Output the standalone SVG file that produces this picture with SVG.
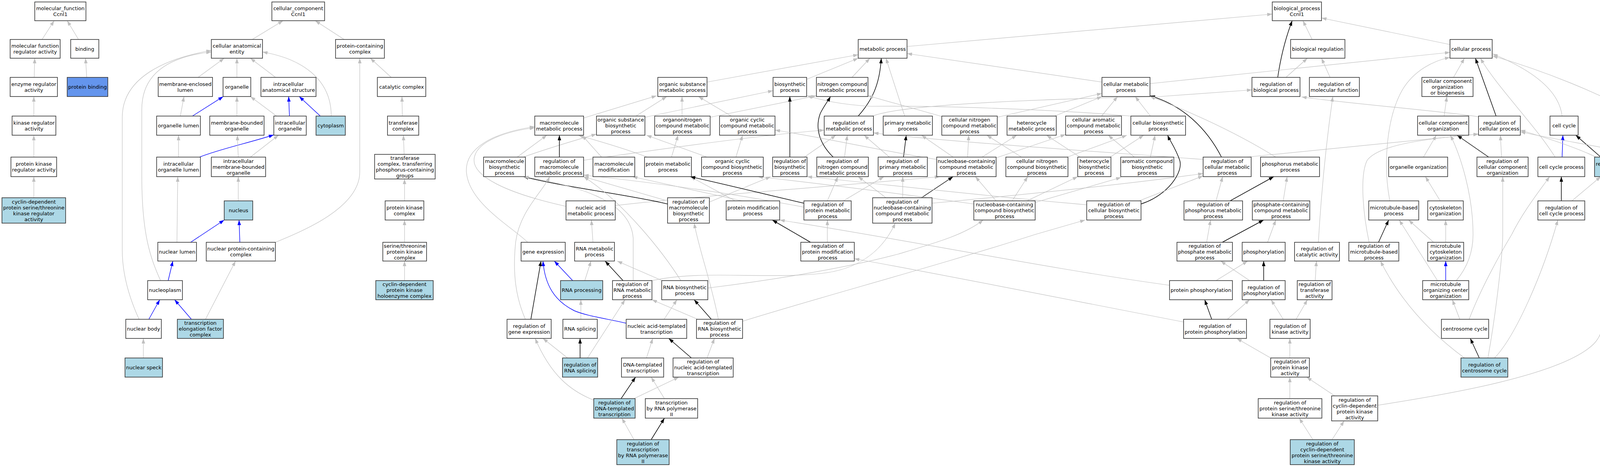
<svg xmlns="http://www.w3.org/2000/svg" width="4449" height="1195" viewBox="0 0 4449 1195">
<style>
.n rect{fill:#fff;stroke:#333;stroke-width:1.6}
.n.hl rect{fill:#ADD8E6}
.n.pb rect{fill:#6495ED}
text{font-family:"DejaVu Sans","Liberation Sans",sans-serif;font-size:13px;text-anchor:middle;fill:#000}
#edges path{fill:none}
.g{stroke:#c0c0c0;stroke-width:1.2;marker-end:url(#ag)}
.k{stroke:#000;stroke-width:1.5;marker-end:url(#ak)}
.b{stroke:#0000ff;stroke-width:1.4;marker-end:url(#ab)}
</style>
<defs>
<marker id="ag" viewBox="0 0 13 9" refX="13" refY="4.5" markerWidth="13" markerHeight="9" markerUnits="userSpaceOnUse" orient="auto"><path d="M0,0 L13,4.5 L0,9 z" fill="#c0c0c0"/></marker>
<marker id="ak" viewBox="0 0 13 9" refX="13" refY="4.5" markerWidth="13" markerHeight="9" markerUnits="userSpaceOnUse" orient="auto"><path d="M0,0 L13,4.5 L0,9 z" fill="#000"/></marker>
<marker id="ab" viewBox="0 0 13 9" refX="13" refY="4.5" markerWidth="13" markerHeight="9" markerUnits="userSpaceOnUse" orient="auto"><path d="M0,0 L13,4.5 L0,9 z" fill="#0000ff"/></marker>
</defs>
<rect x="0" y="0" width="4449" height="1195" fill="#fff"/>
<g id="edges">
<path class="g" d="M107.6,101 L138.7,53"/>
<path class="g" d="M201,101 L172,53"/>
<path class="g" d="M87.5,198 L89,149"/>
<path class="g" d="M222,198 L219,149"/>
<path class="g" d="M86.6,297 L86.6,247"/>
<path class="g" d="M86.6,402 L86.6,346"/>
<path class="g" d="M86.6,506 L86.6,452"/>
<path class="g" d="M645.7,101 L724.6,53"/>
<path class="g" d="M881,101 L807,53"/>
<path class="g" d="M507,198 L574,149"/>
<path class="g" d="M606.5,198 L606.5,149"/>
<path class="g" d="M705.5,198 L641,149"/>
<path class="g" d="M461.6,297 L471,247"/>
<path class="b" d="M492.6,297 L571.6,247"/>
<path class="g" d="M606.5,297 L606.5,247"/>
<path class="g" d="M708,297 L641,247"/>
<path class="b" d="M741,297 L739,247"/>
<path class="b" d="M820,297 L766,247"/>
<path class="g" d="M848,297 C848,200 770,150 672,133"/>
<path class="g" d="M457,402 L457,346"/>
<path class="b" d="M511,402 C560,382 640,365 701,345"/>
<path class="g" d="M610,402 L607.5,346"/>
<path class="g" d="M641,402 L713,346"/>
<path class="g" d="M610,514 L610,452"/>
<path class="g" d="M453,620 L455,452"/>
<path class="b" d="M488,620 L574,563"/>
<path class="b" d="M614,620 L612,563"/>
<path class="g" d="M705,620 C780,590 921,530 921,440 L921,149"/>
<path class="b" d="M430.5,718 L442.5,668"/>
<path class="g" d="M411,718 C385,660 363,600 363,450 L363,280 C363,190 430,145 541,133"/>
<path class="g" d="M356,817 C330,760 313,700 313,640 L313,300 C313,200 420,150 541,129"/>
<path class="b" d="M381,817 L409,767"/>
<path class="b" d="M490,817 L447,767"/>
<path class="g" d="M526,817 L603,668"/>
<path class="g" d="M367,916 L367,866"/>
<path class="g" d="M1001.6,198 L948,149"/>
<path class="g" d="M1030,297 L1029,247"/>
<path class="g" d="M1034.6,395 L1032.7,346"/>
<path class="g" d="M1035.6,514 L1035.6,458"/>
<path class="g" d="M1035.6,620 L1035.6,563"/>
<path class="g" d="M1035.6,718 L1035.6,668"/>
<path class="g" d="M2322,119 L3257,36"/>
<path class="g" d="M3359,101 L3335.5,53"/>
<path class="g" d="M3712,114 L3383,46"/>
<path class="k" d="M3271,198 C3278,150 3290,100 3308,53"/>
<path class="g" d="M3292,198 L3347,149"/>
<path class="g" d="M3405,198 L3383,149"/>
<path class="g" d="M3721,198 L3749,149"/>
<path class="g" d="M2944,214 L3712,134"/>
<path class="g" d="M2821,210 L2322,137"/>
<path class="g" d="M1810,210 L2197,140"/>
<path class="g" d="M2065,203 L2197,149"/>
<path class="g" d="M2181,198 L2227,149"/>
<path class="k" d="M2197,297 C2230,260 2252,220 2256,149"/>
<path class="g" d="M2316,297 L2268,149"/>
<path class="g" d="M2234,297 C2300,270 2600,255 2970,247 L3205,230"/>
<path class="g" d="M3785,299 C3700,285 3450,265 3332,248"/>
<path class="k" d="M3830,297 L3777,149"/>
<path class="g" d="M3999,297 C3990,220 3900,170 3821,138"/>
<path class="g" d="M4204,300 C4100,240 3950,180 3821,143"/>
<path class="g" d="M3697,297 L3704,247"/>
<path class="g" d="M1494,302 L1681,245"/>
<path class="g" d="M1628,297 L1707,247"/>
<path class="g" d="M1651,300 L1979,232"/>
<path class="g" d="M1746,297 L1746,247"/>
<path class="g" d="M1818,300 L2090,245"/>
<path class="g" d="M1872,297 L1788,247"/>
<path class="g" d="M2411,298 L2222,245"/>
<path class="g" d="M2553,300 L2821,239"/>
<path class="g" d="M2700,297 L2821,247"/>
<path class="g" d="M2820,297 L2861,247"/>
<path class="g" d="M2945,297 L2906,247"/>
<path class="g" d="M2895,297 C2700,280 2400,270 2230,272 C2150,268 2100,255 2066,245"/>
<path class="g" d="M1324,402 L1400,346"/>
<path class="g" d="M1340,402 C1400,380 1470,360 1527,343"/>
<path class="k" d="M1432,402 L1432,346"/>
<path class="g" d="M1494,410 C1700,380 1950,345 2110,333"/>
<path class="g" d="M1540,402 L1490,346"/>
<path class="g" d="M1657,402 C1600,380 1530,360 1480,346"/>
<path class="g" d="M1719,402 L1736,346"/>
<path class="g" d="M1884,402 L1901,346"/>
<path class="g" d="M1810,402 L1655,346"/>
<path class="k" d="M2022,402 L2022,247"/>
<path class="g" d="M2059,402 L2140,346"/>
<path class="k" d="M2133,402 C2100,370 2085,330 2100,290 C2110,270 2120,258 2126,247"/>
<path class="g" d="M2162,402 L2169,346"/>
<path class="k" d="M2313,402 L2320,346"/>
<path class="g" d="M2277,402 L2212,346"/>
<path class="g" d="M2440,402 L2359,346"/>
<path class="g" d="M2477,402 L2480,346"/>
<path class="g" d="M2514,402 L2603,346"/>
<path class="g" d="M2550,404 L2728,344"/>
<path class="g" d="M2398,408 C2250,385 2100,350 1984,333"/>
<path class="g" d="M2615,402 L2526,346"/>
<path class="g" d="M2732,402 L2885,346"/>
<path class="g" d="M2765,402 L2679,346"/>
<path class="g" d="M2842,402 L2928,346"/>
<path class="g" d="M2904,402 L2837,346"/>
<path class="g" d="M2945,402 L2957,346"/>
<path class="k" d="M3127,402 C3090,330 3030,270 2944,245"/>
<path class="g" d="M3080,408 C2700,380 2400,360 2236,340"/>
<path class="g" d="M3192,402 L3785,343"/>
<path class="g" d="M3266,402 C3150,330 3020,275 2944,247"/>
<path class="g" d="M3644,402 L3677,346"/>
<path class="k" d="M3811,402 L3730,346"/>
<path class="g" d="M3844,402 L3841,346"/>
<path class="g" d="M3981,402 C3930,320 3830,220 3790,149"/>
<path class="b" d="M3999,402 L4001,346"/>
<path class="k" d="M4098,402 L4034,346"/>
<path class="g" d="M4086,402 C4030,375 3950,350 3892,333"/>
<path class="k" d="M4240,402 L4240,346"/>
<path class="g" d="M4199,402 C4170,385 3990,360 3892,337"/>
<path class="g" d="M4340,402 L4271,346"/>
<path class="g" d="M1449,528 C1300,495 1200,450 1215,400 C1225,360 1300,335 1369,327"/>
<path class="g" d="M1575,526 C1800,500 2100,480 2406,452"/>
<path class="k" d="M1709,522 C1620,500 1450,480 1340,452"/>
<path class="g" d="M1816,517 L1973,452"/>
<path class="g" d="M1705,513 L1494,452"/>
<path class="g" d="M1900,514 L1619,452"/>
<path class="g" d="M1882,514 L1767,452"/>
<path class="k" d="M2058,520 C1950,495 1850,470 1767,452"/>
<path class="g" d="M2118,514 L2145,452"/>
<path class="g" d="M2159,514 L2263,452"/>
<path class="g" d="M2058,530 C1900,500 1700,470 1494,448"/>
<path class="k" d="M2359,506 L2440,452"/>
<path class="g" d="M2311,506 L2311,452"/>
<path class="g" d="M2268,506 L2197,452"/>
<path class="g" d="M2386,520 C2600,500 2900,470 3080,444"/>
<path class="g" d="M2550,514 L2497,452"/>
<path class="g" d="M2591,514 L2631,452"/>
<path class="g" d="M2629,514 L2759,452"/>
<path class="g" d="M2650,518 L2870,454"/>
<path class="g" d="M2493,522 C2300,495 2100,470 1940,452"/>
<path class="k" d="M2921,522 C2990,500 3030,440 3020,410 C3010,380 2995,360 2989,346"/>
<path class="g" d="M2782,524 C2500,500 2250,470 2066,452"/>
<path class="g" d="M2916,514 L3080,450"/>
<path class="g" d="M3113,514 L3130,452"/>
<path class="k" d="M3149,514 L3261,452"/>
<path class="g" d="M3285,514 L3295,452"/>
<path class="g" d="M3558,514 C3540,420 3550,300 3590,230 C3620,180 3670,155 3712,147"/>
<path class="g" d="M3687,514 L3649,452"/>
<path class="k" d="M3997,514 L3997,452"/>
<path class="g" d="M4024,514 L4098,452"/>
<path class="g" d="M4240,514 L4240,452"/>
<path class="k" d="M4268,514 L4340,452"/>
<path class="g" d="M4380,514 L4373,452"/>
<path class="g" d="M1351,620 C1310,580 1200,520 1194,440 C1190,380 1260,340 1369,324"/>
<path class="g" d="M1518,620 L1514,563"/>
<path class="k" d="M2075,620 L1977,563"/>
<path class="g" d="M2118,620 L2118,563"/>
<path class="g" d="M3089,620 L3099,563"/>
<path class="k" d="M3129,620 L3235,563"/>
<path class="g" d="M3245,620 L3266,563"/>
<path class="g" d="M3375,620 C3385,450 3400,330 3412,247"/>
<path class="k" d="M3529,620 L3555,563"/>
<path class="g" d="M3505,620 C3490,550 3480,450 3500,410 C3530,370 3650,355 3785,343"/>
<path class="g" d="M3670,620 L3606,563"/>
<path class="g" d="M3701,620 L3701,563"/>
<path class="g" d="M4295,620 L4261,563"/>
<path class="k" d="M4328,620 L4366,563"/>
<path class="b" d="M1466,718 L1419,668"/>
<path class="g" d="M1497,718 L1513,668"/>
<path class="k" d="M1595,718 L1549,668"/>
<path class="g" d="M1621,718 L1621,610 C1615,520 1500,478 1340,452"/>
<path class="g" d="M1669,718 C1800,690 1950,715 2100,700 C2200,690 2260,640 2292,571"/>
<path class="g" d="M1695,718 L1580,668"/>
<path class="g" d="M1743,718 C1700,650 1600,520 1494,452"/>
<path class="g" d="M1812,737 C1950,720 2150,690 2300,650 C2400,620 2470,600 2517,563"/>
<path class="g" d="M3113,718 L3194,668"/>
<path class="g" d="M2994,730 C2700,690 2300,610 1996,563"/>
<path class="k" d="M3235,718 L3235,668"/>
<path class="g" d="M3199,718 L3125,668"/>
<path class="g" d="M3367,718 L3370,668"/>
<path class="b" d="M3701,718 L3701,668"/>
<path class="g" d="M3680,718 L3582,563"/>
<path class="g" d="M3728,718 C3760,680 3771,640 3771,600 C3771,500 3740,400 3713,346"/>
<path class="k" d="M1359,817 L1385,668"/>
<path class="g" d="M1345,817 C1320,760 1312,700 1320,620 C1330,540 1390,490 1407,452"/>
<path class="g" d="M1487,817 L1487,767"/>
<path class="b" d="M1603,827 C1550,815 1500,808 1470,795 C1420,770 1395,730 1390,668"/>
<path class="g" d="M1700,817 L1733,767"/>
<path class="k" d="M1821,817 L1777,767"/>
<path class="g" d="M1786,817 L1669,767"/>
<path class="g" d="M1839,817 C1820,720 1790,640 1777,571"/>
<path class="g" d="M1901,822 C2100,760 2400,680 2650,600 L2778,563"/>
<path class="k" d="M3102,817 L3084,767"/>
<path class="g" d="M3142,817 L3199,767"/>
<path class="g" d="M3030,824 C2700,760 2400,700 2187,662"/>
<path class="g" d="M3285,817 L3254,767"/>
<path class="g" d="M3318,817 L3347,767"/>
<path class="g" d="M3737,817 L3718,767"/>
<path class="g" d="M3761,817 C3790,740 3840,650 3870,600 C3900,540 3940,490 3967,452"/>
<path class="k" d="M1485,916 L1485,866"/>
<path class="g" d="M1453,916 L1390,866"/>
<path class="g" d="M1504,916 L1600,767"/>
<path class="g" d="M1655,916 L1671,866"/>
<path class="k" d="M1770,916 L1712,866"/>
<path class="g" d="M1810,916 L1829,866"/>
<path class="g" d="M3302,916 L3302,866"/>
<path class="g" d="M3253,916 L3166,866"/>
<path class="k" d="M3787,916 L3764,866"/>
<path class="g" d="M3809,916 C3830,800 3847,650 3847,600 L3847,452"/>
<path class="g" d="M3826,916 C3880,860 3950,700 3988,563"/>
<path class="g" d="M3749,916 C3700,880 3600,800 3534,668"/>
<path class="k" d="M1590,1020 L1627,965"/>
<path class="g" d="M1623,1020 L1738,965"/>
<path class="g" d="M1520,1024 C1460,1000 1410,960 1370,866"/>
<path class="g" d="M1701,1020 L1667,965"/>
<path class="g" d="M3302,1020 L3302,965"/>
<path class="g" d="M3417,1013 L3345,965"/>
<path class="g" d="M3527,1037 C3700,1010 4000,960 4080,880 C4110,850 4110,800 4110,700 L4110,600 C4110,540 4118,480 4122,452"/>
<path class="k" d="M1667,1125 L1701,1070"/>
<path class="g" d="M1623,1125 L1592,1070"/>
<path class="g" d="M3361,1125 L3326,1070"/>
<path class="g" d="M3410,1125 L3441,1077"/>
</g>
<g id="n_mf" class="n"><rect x="89" y="5" width="131" height="48"/><text><tspan x="154.5" y="26">molecular_function</tspan><tspan x="154.5" y="41">Ccnl1</tspan></text></g>
<g id="n_cc" class="n"><rect x="696" y="5" width="135" height="48"/><text><tspan x="763.5" y="26">cellular_component</tspan><tspan x="763.5" y="41">Ccnl1</tspan></text></g>
<g id="n_bp" class="n"><rect x="3257" y="5" width="126" height="48"/><text><tspan x="3320" y="26">biological_process</tspan><tspan x="3320" y="41">Ccnl1</tspan></text></g>
<g id="n_mfra" class="n"><rect x="26" y="101" width="128" height="48"/><text><tspan x="90" y="122">molecular function</tspan><tspan x="90" y="137">regulator activity</tspan></text></g>
<g id="n_bind" class="n"><rect x="181" y="101" width="72" height="48"/><text x="217" y="129.5">binding</text></g>
<g id="n_cae" class="n"><rect x="541" y="101" width="131" height="48"/><text><tspan x="606.5" y="122">cellular anatomical</tspan><tspan x="606.5" y="137">entity</tspan></text></g>
<g id="n_pcc" class="n"><rect x="859" y="101" width="125" height="48"/><text><tspan x="921.5" y="122">protein-containing</tspan><tspan x="921.5" y="137">complex</tspan></text></g>
<g id="n_mp" class="n"><rect x="2197" y="101" width="125" height="48"/><text x="2259.5" y="129.5">metabolic process</text></g>
<g id="n_br" class="n"><rect x="3304" y="101" width="139" height="48"/><text x="3373.5" y="129.5">biological regulation</text></g>
<g id="n_cp" class="n"><rect x="3712" y="101" width="108" height="48"/><text x="3766" y="129.5">cellular process</text></g>
<g id="n_era" class="n"><rect x="26" y="198" width="121" height="49"/><text><tspan x="86.5" y="219.5">enzyme regulator</tspan><tspan x="86.5" y="234.5">activity</tspan></text></g>
<g id="n_pb" class="n pb"><rect x="172" y="198" width="104" height="49"/><text x="224" y="227">protein binding</text></g>
<g id="n_mel" class="n"><rect x="405" y="198" width="139" height="49"/><text><tspan x="474.5" y="219.5">membrane-enclosed</tspan><tspan x="474.5" y="234.5">lumen</tspan></text></g>
<g id="n_org" class="n"><rect x="571" y="198" width="71" height="49"/><text x="606.5" y="227">organelle</text></g>
<g id="n_ias" class="n"><rect x="668" y="198" width="141" height="49"/><text><tspan x="738.5" y="219.5">intracellular</tspan><tspan x="738.5" y="234.5">anatomical structure</tspan></text></g>
<g id="n_catc" class="n"><rect x="966" y="198" width="124" height="49"/><text x="1028" y="227">catalytic complex</text></g>
<g id="n_osmp" class="n"><rect x="1684" y="198" width="126" height="49"/><text><tspan x="1747" y="219.5">organic substance</tspan><tspan x="1747" y="234.5">metabolic process</tspan></text></g>
<g id="n_bsp" class="n"><rect x="1979" y="198" width="86" height="49"/><text><tspan x="2022" y="219.5">biosynthetic</tspan><tspan x="2022" y="234.5">process</tspan></text></g>
<g id="n_ncmp" class="n"><rect x="2090" y="198" width="132" height="49"/><text><tspan x="2156" y="219.5">nitrogen compound</tspan><tspan x="2156" y="234.5">metabolic process</tspan></text></g>
<g id="n_cmp" class="n"><rect x="2821" y="198" width="123" height="49"/><text><tspan x="2882.5" y="219.5">cellular metabolic</tspan><tspan x="2882.5" y="234.5">process</tspan></text></g>
<g id="n_rbp" class="n"><rect x="3205" y="198" width="123" height="49"/><text><tspan x="3266.5" y="219.5">regulation of</tspan><tspan x="3266.5" y="234.5">biological process</tspan></text></g>
<g id="n_rmf" class="n"><rect x="3352" y="198" width="128" height="49"/><text><tspan x="3416" y="219.5">regulation of</tspan><tspan x="3416" y="234.5">molecular function</tspan></text></g>
<g id="n_ccob" class="n"><rect x="3640" y="198" width="131" height="49"/><text><tspan x="3705.5" y="212">cellular component</tspan><tspan x="3705.5" y="227">organization</tspan><tspan x="3705.5" y="242">or biogenesis</tspan></text></g>
<g id="n_kra" class="n"><rect x="31" y="297" width="112" height="49"/><text><tspan x="87" y="318.5">kinase regulator</tspan><tspan x="87" y="333.5">activity</tspan></text></g>
<g id="n_orgl" class="n"><rect x="401" y="297" width="112" height="49"/><text x="457" y="326">organelle lumen</text></g>
<g id="n_mbo" class="n"><rect x="537" y="297" width="139" height="49"/><text><tspan x="606.5" y="318.5">membrane-bounded</tspan><tspan x="606.5" y="333.5">organelle</tspan></text></g>
<g id="n_io" class="n"><rect x="701" y="297" width="83" height="49"/><text><tspan x="742.5" y="318.5">intracellular</tspan><tspan x="742.5" y="333.5">organelle</tspan></text></g>
<g id="n_cyto" class="n hl"><rect x="809" y="297" width="75" height="49"/><text x="846.5" y="326">cytoplasm</text></g>
<g id="n_tc" class="n"><rect x="992" y="297" width="80" height="49"/><text><tspan x="1032" y="318.5">transferase</tspan><tspan x="1032" y="333.5">complex</tspan></text></g>
<g id="n_mmp" class="n"><rect x="1369" y="297" width="125" height="49"/><text><tspan x="1431.5" y="318.5">macromolecule</tspan><tspan x="1431.5" y="333.5">metabolic process</tspan></text></g>
<g id="n_osbp" class="n"><rect x="1527" y="297" width="124" height="49"/><text><tspan x="1589" y="311">organic substance</tspan><tspan x="1589" y="326">biosynthetic</tspan><tspan x="1589" y="341">process</tspan></text></g>
<g id="n_oncmp" class="n"><rect x="1676" y="297" width="142" height="49"/><text><tspan x="1747" y="311">organonitrogen</tspan><tspan x="1747" y="326">compound metabolic</tspan><tspan x="1747" y="341">process</tspan></text></g>
<g id="n_occmp" class="n"><rect x="1842" y="297" width="142" height="49"/><text><tspan x="1913" y="311">organic cyclic</tspan><tspan x="1913" y="326">compound metabolic</tspan><tspan x="1913" y="341">process</tspan></text></g>
<g id="n_rmp" class="n"><rect x="2110" y="297" width="126" height="49"/><text><tspan x="2173" y="318.5">regulation of</tspan><tspan x="2173" y="333.5">metabolic process</tspan></text></g>
<g id="n_pmp" class="n"><rect x="2261" y="297" width="126" height="49"/><text><tspan x="2324" y="318.5">primary metabolic</tspan><tspan x="2324" y="333.5">process</tspan></text></g>
<g id="n_cncmp" class="n"><rect x="2411" y="297" width="142" height="49"/><text><tspan x="2482" y="311">cellular nitrogen</tspan><tspan x="2482" y="326">compound metabolic</tspan><tspan x="2482" y="341">process</tspan></text></g>
<g id="n_hmp" class="n"><rect x="2578" y="297" width="126" height="49"/><text><tspan x="2641" y="318.5">heterocycle</tspan><tspan x="2641" y="333.5">metabolic process</tspan></text></g>
<g id="n_cacmp" class="n"><rect x="2728" y="297" width="143" height="49"/><text><tspan x="2799.5" y="311">cellular aromatic</tspan><tspan x="2799.5" y="326">compound metabolic</tspan><tspan x="2799.5" y="341">process</tspan></text></g>
<g id="n_cbp" class="n"><rect x="2895" y="297" width="140" height="49"/><text><tspan x="2965" y="318.5">cellular biosynthetic</tspan><tspan x="2965" y="333.5">process</tspan></text></g>
<g id="n_cco" class="n"><rect x="3629" y="297" width="131" height="49"/><text><tspan x="3694.5" y="318.5">cellular component</tspan><tspan x="3694.5" y="333.5">organization</tspan></text></g>
<g id="n_rcp" class="n"><rect x="3785" y="297" width="107" height="49"/><text><tspan x="3838.5" y="318.5">regulation of</tspan><tspan x="3838.5" y="333.5">cellular process</tspan></text></g>
<g id="n_cc2" class="n"><rect x="3968" y="297" width="72" height="49"/><text x="4004" y="326">cell cycle</text></g>
<g id="n_cd" class="n"><rect x="4204" y="297" width="72" height="49"/><text x="4240" y="326">cell death</text></g>
<g id="n_pkra" class="n"><rect x="28" y="402" width="117" height="50"/><text><tspan x="86.5" y="424">protein kinase</tspan><tspan x="86.5" y="439">regulator activity</tspan></text></g>
<g id="n_iol" class="n"><rect x="401" y="402" width="112" height="50"/><text><tspan x="457" y="424">intracellular</tspan><tspan x="457" y="439">organelle lumen</tspan></text></g>
<g id="n_imbo" class="n"><rect x="541" y="402" width="139" height="50"/><text><tspan x="610.5" y="416.5">intracellular</tspan><tspan x="610.5" y="431.5">membrane-bounded</tspan><tspan x="610.5" y="446.5">organelle</tspan></text></g>
<g id="n_tctp" class="n"><rect x="959" y="395" width="155" height="63"/><text><tspan x="1036.5" y="408.5">transferase</tspan><tspan x="1036.5" y="423.5">complex, transferring</tspan><tspan x="1036.5" y="438.5">phosphorus-containing</tspan><tspan x="1036.5" y="453.5">groups</tspan></text></g>
<g id="n_mbp" class="n"><rect x="1238" y="402" width="107" height="50"/><text><tspan x="1291.5" y="416.5">macromolecule</tspan><tspan x="1291.5" y="431.5">biosynthetic</tspan><tspan x="1291.5" y="446.5">process</tspan></text></g>
<g id="n_rmmp" class="n"><rect x="1369" y="402" width="125" height="50"/><text><tspan x="1431.5" y="416.5">regulation of</tspan><tspan x="1431.5" y="431.5">macromolecule</tspan><tspan x="1431.5" y="446.5">metabolic process</tspan></text></g>
<g id="n_mm" class="n"><rect x="1518" y="402" width="107" height="50"/><text><tspan x="1571.5" y="424">macromolecule</tspan><tspan x="1571.5" y="439">modification</tspan></text></g>
<g id="n_prmp" class="n"><rect x="1650" y="402" width="120" height="50"/><text><tspan x="1710" y="424">protein metabolic</tspan><tspan x="1710" y="439">process</tspan></text></g>
<g id="n_occbp" class="n"><rect x="1796" y="402" width="158" height="50"/><text><tspan x="1875" y="416.5">organic cyclic</tspan><tspan x="1875" y="431.5">compound biosynthetic</tspan><tspan x="1875" y="446.5">process</tspan></text></g>
<g id="n_rbsp" class="n"><rect x="1978" y="402" width="88" height="50"/><text><tspan x="2022" y="416.5">regulation of</tspan><tspan x="2022" y="431.5">biosynthetic</tspan><tspan x="2022" y="446.5">process</tspan></text></g>
<g id="n_rncmp" class="n"><rect x="2091" y="402" width="132" height="50"/><text><tspan x="2157" y="416.5">regulation of</tspan><tspan x="2157" y="431.5">nitrogen compound</tspan><tspan x="2157" y="446.5">metabolic process</tspan></text></g>
<g id="n_rpmp" class="n"><rect x="2248" y="402" width="126" height="50"/><text><tspan x="2311" y="416.5">regulation of</tspan><tspan x="2311" y="431.5">primary metabolic</tspan><tspan x="2311" y="446.5">process</tspan></text></g>
<g id="n_nbcmp" class="n"><rect x="2398" y="402" width="152" height="50"/><text><tspan x="2474" y="416.5">nucleobase-containing</tspan><tspan x="2474" y="431.5">compound metabolic</tspan><tspan x="2474" y="446.5">process</tspan></text></g>
<g id="n_cncbp" class="n"><rect x="2575" y="402" width="159" height="50"/><text><tspan x="2654.5" y="416.5">cellular nitrogen</tspan><tspan x="2654.5" y="431.5">compound biosynthetic</tspan><tspan x="2654.5" y="446.5">process</tspan></text></g>
<g id="n_hbp" class="n"><rect x="2759" y="402" width="85" height="50"/><text><tspan x="2801.5" y="416.5">heterocycle</tspan><tspan x="2801.5" y="431.5">biosynthetic</tspan><tspan x="2801.5" y="446.5">process</tspan></text></g>
<g id="n_acbp" class="n"><rect x="2869" y="402" width="136" height="50"/><text><tspan x="2937" y="416.5">aromatic compound</tspan><tspan x="2937" y="431.5">biosynthetic</tspan><tspan x="2937" y="446.5">process</tspan></text></g>
<g id="n_rcmp" class="n"><rect x="3080" y="402" width="123" height="50"/><text><tspan x="3141.5" y="416.5">regulation of</tspan><tspan x="3141.5" y="431.5">cellular metabolic</tspan><tspan x="3141.5" y="446.5">process</tspan></text></g>
<g id="n_phmp" class="n"><rect x="3227" y="402" width="151" height="50"/><text><tspan x="3302.5" y="424">phosphorus metabolic</tspan><tspan x="3302.5" y="439">process</tspan></text></g>
<g id="n_oo" class="n"><rect x="3555" y="402" width="151" height="50"/><text x="3630.5" y="431.5">organelle organization</text></g>
<g id="n_rcco" class="n"><rect x="3781" y="402" width="131" height="50"/><text><tspan x="3846.5" y="416.5">regulation of</tspan><tspan x="3846.5" y="431.5">cellular component</tspan><tspan x="3846.5" y="446.5">organization</tspan></text></g>
<g id="n_ccp" class="n"><rect x="3937" y="402" width="120" height="50"/><text x="3997" y="431.5">cell cycle process</text></g>
<g id="n_rcc" class="n hl"><rect x="4082" y="402" width="89" height="50"/><text><tspan x="4126.5" y="424">regulation of</tspan><tspan x="4126.5" y="439">cell cycle</tspan></text></g>
<g id="n_rcd" class="n"><rect x="4195" y="402" width="89" height="50"/><text><tspan x="4239.5" y="424">regulation of</tspan><tspan x="4239.5" y="439">cell death</tspan></text></g>
<g id="n_pcd" class="n"><rect x="4309" y="402" width="118" height="50"/><text><tspan x="4368" y="424">programmed cell</tspan><tspan x="4368" y="439">death</tspan></text></g>
<g id="n_cdkra" class="n hl"><rect x="5" y="506" width="163" height="65"/><text><tspan x="86.5" y="520.5">cyclin-dependent</tspan><tspan x="86.5" y="535.5">protein serine/threonine</tspan><tspan x="86.5" y="550.5">kinase regulator</tspan><tspan x="86.5" y="565.5">activity</tspan></text></g>
<g id="n_nuc" class="n hl"><rect x="574" y="514" width="73" height="49"/><text x="610.5" y="543">nucleus</text></g>
<g id="n_pkc" class="n"><rect x="986" y="514" width="99" height="49"/><text><tspan x="1035.5" y="535.5">protein kinase</tspan><tspan x="1035.5" y="550.5">complex</tspan></text></g>
<g id="n_namp" class="n"><rect x="1449" y="514" width="126" height="49"/><text><tspan x="1512" y="535.5">nucleic acid</tspan><tspan x="1512" y="550.5">metabolic process</tspan></text></g>
<g id="n_rmbp" class="n"><rect x="1709" y="506" width="107" height="65"/><text><tspan x="1762.5" y="520.5">regulation of</tspan><tspan x="1762.5" y="535.5">macromolecule</tspan><tspan x="1762.5" y="550.5">biosynthetic</tspan><tspan x="1762.5" y="565.5">process</tspan></text></g>
<g id="n_pmod" class="n"><rect x="1859" y="514" width="137" height="49"/><text><tspan x="1927.5" y="535.5">protein modification</tspan><tspan x="1927.5" y="550.5">process</tspan></text></g>
<g id="n_rprmp" class="n"><rect x="2058" y="514" width="121" height="49"/><text><tspan x="2118.5" y="528">regulation of</tspan><tspan x="2118.5" y="543">protein metabolic</tspan><tspan x="2118.5" y="558">process</tspan></text></g>
<g id="n_rnbcmp" class="n"><rect x="2234" y="506" width="152" height="65"/><text><tspan x="2310" y="520.5">regulation of</tspan><tspan x="2310" y="535.5">nucleobase-containing</tspan><tspan x="2310" y="550.5">compound metabolic</tspan><tspan x="2310" y="565.5">process</tspan></text></g>
<g id="n_nbcbp" class="n"><rect x="2493" y="514" width="157" height="49"/><text><tspan x="2571.5" y="528">nucleobase-containing</tspan><tspan x="2571.5" y="543">compound biosynthetic</tspan><tspan x="2571.5" y="558">process</tspan></text></g>
<g id="n_rcbp" class="n"><rect x="2782" y="514" width="139" height="49"/><text><tspan x="2851.5" y="528">regulation of</tspan><tspan x="2851.5" y="543">cellular biosynthetic</tspan><tspan x="2851.5" y="558">process</tspan></text></g>
<g id="n_rphmp" class="n"><rect x="3031" y="514" width="150" height="49"/><text><tspan x="3106" y="528">regulation of</tspan><tspan x="3106" y="543">phosphorus metabolic</tspan><tspan x="3106" y="558">process</tspan></text></g>
<g id="n_pccmp" class="n"><rect x="3206" y="514" width="147" height="49"/><text><tspan x="3279.5" y="528">phosphate-containing</tspan><tspan x="3279.5" y="543">compound metabolic</tspan><tspan x="3279.5" y="558">process</tspan></text></g>
<g id="n_mtbp" class="n"><rect x="3504" y="514" width="128" height="49"/><text><tspan x="3568" y="535.5">microtubule-based</tspan><tspan x="3568" y="550.5">process</tspan></text></g>
<g id="n_cso" class="n"><rect x="3655" y="514" width="91" height="49"/><text><tspan x="3700.5" y="535.5">cytoskeleton</tspan><tspan x="3700.5" y="550.5">organization</tspan></text></g>
<g id="n_rccp" class="n"><rect x="3937" y="514" width="120" height="49"/><text><tspan x="3997" y="535.5">regulation of</tspan><tspan x="3997" y="550.5">cell cycle process</tspan></text></g>
<g id="n_rpcd" class="n"><rect x="4181" y="514" width="117" height="49"/><text><tspan x="4239.5" y="528">regulation of</tspan><tspan x="4239.5" y="543">programmed cell</tspan><tspan x="4239.5" y="558">death</tspan></text></g>
<g id="n_ap" class="n"><rect x="4324" y="514" width="120" height="49"/><text x="4384" y="543">apoptotic process</text></g>
<g id="n_nl" class="n"><rect x="404" y="620" width="99" height="48"/><text x="453.5" y="648.5">nuclear lumen</text></g>
<g id="n_npcc" class="n"><rect x="528" y="620" width="177" height="48"/><text><tspan x="616.5" y="641">nuclear protein-containing</tspan><tspan x="616.5" y="656">complex</tspan></text></g>
<g id="n_stpkc" class="n"><rect x="980" y="620" width="112" height="48"/><text><tspan x="1036" y="633.5">serine/threonine</tspan><tspan x="1036" y="648.5">protein kinase</tspan><tspan x="1036" y="663.5">complex</tspan></text></g>
<g id="n_ge" class="n"><rect x="1334" y="620" width="113" height="48"/><text x="1390.5" y="648.5">gene expression</text></g>
<g id="n_rnamp" class="n"><rect x="1471" y="620" width="102" height="48"/><text><tspan x="1522" y="641">RNA metabolic</tspan><tspan x="1522" y="656">process</tspan></text></g>
<g id="n_rpmod" class="n"><rect x="2050" y="620" width="137" height="48"/><text><tspan x="2118.5" y="633.5">regulation of</tspan><tspan x="2118.5" y="648.5">protein modification</tspan><tspan x="2118.5" y="663.5">process</tspan></text></g>
<g id="n_rphm" class="n"><rect x="3013" y="620" width="142" height="48"/><text><tspan x="3084" y="633.5">regulation of</tspan><tspan x="3084" y="648.5">phosphate metabolic</tspan><tspan x="3084" y="663.5">process</tspan></text></g>
<g id="n_phos" class="n"><rect x="3180" y="620" width="110" height="48"/><text x="3235" y="648.5">phosphorylation</text></g>
<g id="n_rca" class="n"><rect x="3314" y="620" width="115" height="48"/><text><tspan x="3371.5" y="641">regulation of</tspan><tspan x="3371.5" y="656">catalytic activity</tspan></text></g>
<g id="n_rmtbp" class="n"><rect x="3453" y="620" width="128" height="48"/><text><tspan x="3517" y="633.5">regulation of</tspan><tspan x="3517" y="648.5">microtubule-based</tspan><tspan x="3517" y="663.5">process</tspan></text></g>
<g id="n_mtco" class="n"><rect x="3655" y="620" width="92" height="48"/><text><tspan x="3701" y="633.5">microtubule</tspan><tspan x="3701" y="648.5">cytoskeleton</tspan><tspan x="3701" y="663.5">organization</tspan></text></g>
<g id="n_rap" class="n hl"><rect x="4251" y="620" width="121" height="48"/><text><tspan x="4311.5" y="641">regulation of</tspan><tspan x="4311.5" y="656">apoptotic process</tspan></text></g>
<g id="n_np" class="n"><rect x="378" y="718" width="89" height="49"/><text x="422.5" y="747">nucleoplasm</text></g>
<g id="n_cdkhc" class="n hl"><rect x="962" y="718" width="147" height="49"/><text><tspan x="1035.5" y="732">cyclin-dependent</tspan><tspan x="1035.5" y="747">protein kinase</tspan><tspan x="1035.5" y="762">holoenzyme complex</tspan></text></g>
<g id="n_rnap" class="n hl"><rect x="1435" y="718" width="108" height="49"/><text x="1489" y="747">RNA processing</text></g>
<g id="n_rrnamp" class="n"><rect x="1568" y="718" width="101" height="49"/><text><tspan x="1618.5" y="732">regulation of</tspan><tspan x="1618.5" y="747">RNA metabolic</tspan><tspan x="1618.5" y="762">process</tspan></text></g>
<g id="n_rnabp" class="n"><rect x="1694" y="718" width="118" height="49"/><text><tspan x="1753" y="739.5">RNA biosynthetic</tspan><tspan x="1753" y="754.5">process</tspan></text></g>
<g id="n_pphos" class="n"><rect x="2994" y="718" width="161" height="49"/><text x="3074.5" y="747">protein phosphorylation</text></g>
<g id="n_rphos" class="n"><rect x="3180" y="718" width="110" height="49"/><text><tspan x="3235" y="739.5">regulation of</tspan><tspan x="3235" y="754.5">phosphorylation</tspan></text></g>
<g id="n_rta" class="n"><rect x="3321" y="718" width="89" height="49"/><text><tspan x="3365.5" y="732">regulation of</tspan><tspan x="3365.5" y="747">transferase</tspan><tspan x="3365.5" y="762">activity</tspan></text></g>
<g id="n_mtoco" class="n"><rect x="3642" y="718" width="118" height="49"/><text><tspan x="3701" y="732">microtubule</tspan><tspan x="3701" y="747">organizing center</tspan><tspan x="3701" y="762">organization</tspan></text></g>
<g id="n_nb" class="n"><rect x="322" y="817" width="91" height="49"/><text x="367.5" y="846">nuclear body</text></g>
<g id="n_tefc" class="n hl"><rect x="454" y="817" width="118" height="49"/><text><tspan x="513" y="831">transcription</tspan><tspan x="513" y="846">elongation factor</tspan><tspan x="513" y="861">complex</tspan></text></g>
<g id="n_rge" class="n"><rect x="1298" y="817" width="113" height="49"/><text><tspan x="1354.5" y="838.5">regulation of</tspan><tspan x="1354.5" y="853.5">gene expression</tspan></text></g>
<g id="n_rnas" class="n"><rect x="1441" y="817" width="88" height="49"/><text x="1485" y="846">RNA splicing</text></g>
<g id="n_natt" class="n"><rect x="1603" y="817" width="155" height="49"/><text><tspan x="1680.5" y="838.5">nucleic acid-templated</tspan><tspan x="1680.5" y="853.5">transcription</tspan></text></g>
<g id="n_rrnabp" class="n"><rect x="1783" y="817" width="118" height="49"/><text><tspan x="1842" y="831">regulation of</tspan><tspan x="1842" y="846">RNA biosynthetic</tspan><tspan x="1842" y="861">process</tspan></text></g>
<g id="n_rpphos" class="n"><rect x="3030" y="817" width="161" height="49"/><text><tspan x="3110.5" y="838.5">regulation of</tspan><tspan x="3110.5" y="853.5">protein phosphorylation</tspan></text></g>
<g id="n_rka" class="n"><rect x="3251" y="817" width="103" height="49"/><text><tspan x="3302.5" y="838.5">regulation of</tspan><tspan x="3302.5" y="853.5">kinase activity</tspan></text></g>
<g id="n_csc" class="n"><rect x="3690" y="817" width="121" height="49"/><text x="3750.5" y="846">centrosome cycle</text></g>
<g id="n_ns" class="n hl"><rect x="320" y="916" width="96" height="49"/><text x="368" y="945">nuclear speck</text></g>
<g id="n_rrnas" class="n hl"><rect x="1440" y="916" width="90" height="49"/><text><tspan x="1485" y="937.5">regulation of</tspan><tspan x="1485" y="952.5">RNA splicing</tspan></text></g>
<g id="n_dtt" class="n"><rect x="1591" y="916" width="108" height="49"/><text><tspan x="1645" y="937.5">DNA-templated</tspan><tspan x="1645" y="952.5">transcription</tspan></text></g>
<g id="n_rnatt" class="n"><rect x="1723" y="916" width="154" height="49"/><text><tspan x="1800" y="930">regulation of</tspan><tspan x="1800" y="945">nucleic acid-templated</tspan><tspan x="1800" y="960">transcription</tspan></text></g>
<g id="n_rpka" class="n"><rect x="3253" y="916" width="99" height="49"/><text><tspan x="3302.5" y="930">regulation of</tspan><tspan x="3302.5" y="945">protein kinase</tspan><tspan x="3302.5" y="960">activity</tspan></text></g>
<g id="n_rcsc" class="n hl"><rect x="3740" y="916" width="120" height="49"/><text><tspan x="3800" y="937.5">regulation of</tspan><tspan x="3800" y="952.5">centrosome cycle</tspan></text></g>
<g id="n_rdtt" class="n hl"><rect x="1520" y="1020" width="106" height="50"/><text><tspan x="1573" y="1034.5">regulation of</tspan><tspan x="1573" y="1049.5">DNA-templated</tspan><tspan x="1573" y="1064.5">transcription</tspan></text></g>
<g id="n_trp2" class="n"><rect x="1652" y="1020" width="134" height="50"/><text><tspan x="1719" y="1034.5">transcription</tspan><tspan x="1719" y="1049.5">by RNA polymerase</tspan><tspan x="1719" y="1064.5">II</tspan></text></g>
<g id="n_rpstka" class="n"><rect x="3221" y="1020" width="163" height="50"/><text><tspan x="3302.5" y="1034.5">regulation of</tspan><tspan x="3302.5" y="1049.5">protein serine/threonine</tspan><tspan x="3302.5" y="1064.5">kinase activity</tspan></text></g>
<g id="n_rcdpka" class="n"><rect x="3409" y="1013" width="118" height="64"/><text><tspan x="3468" y="1027.5">regulation of</tspan><tspan x="3468" y="1042.5">cyclin-dependent</tspan><tspan x="3468" y="1057.5">protein kinase</tspan><tspan x="3468" y="1072.5">activity</tspan></text></g>
<g id="n_rtrp2" class="n hl"><rect x="1579" y="1125" width="134" height="64"/><text><tspan x="1646" y="1139.5">regulation of</tspan><tspan x="1646" y="1154.5">transcription</tspan><tspan x="1646" y="1169.5">by RNA polymerase</tspan><tspan x="1646" y="1184.5">II</tspan></text></g>
<g id="n_rcdpstka" class="n hl"><rect x="3303" y="1125" width="164" height="64"/><text><tspan x="3385" y="1139.5">regulation of</tspan><tspan x="3385" y="1154.5">cyclin-dependent</tspan><tspan x="3385" y="1169.5">protein serine/threonine</tspan><tspan x="3385" y="1184.5">kinase activity</tspan></text></g>
</svg>
